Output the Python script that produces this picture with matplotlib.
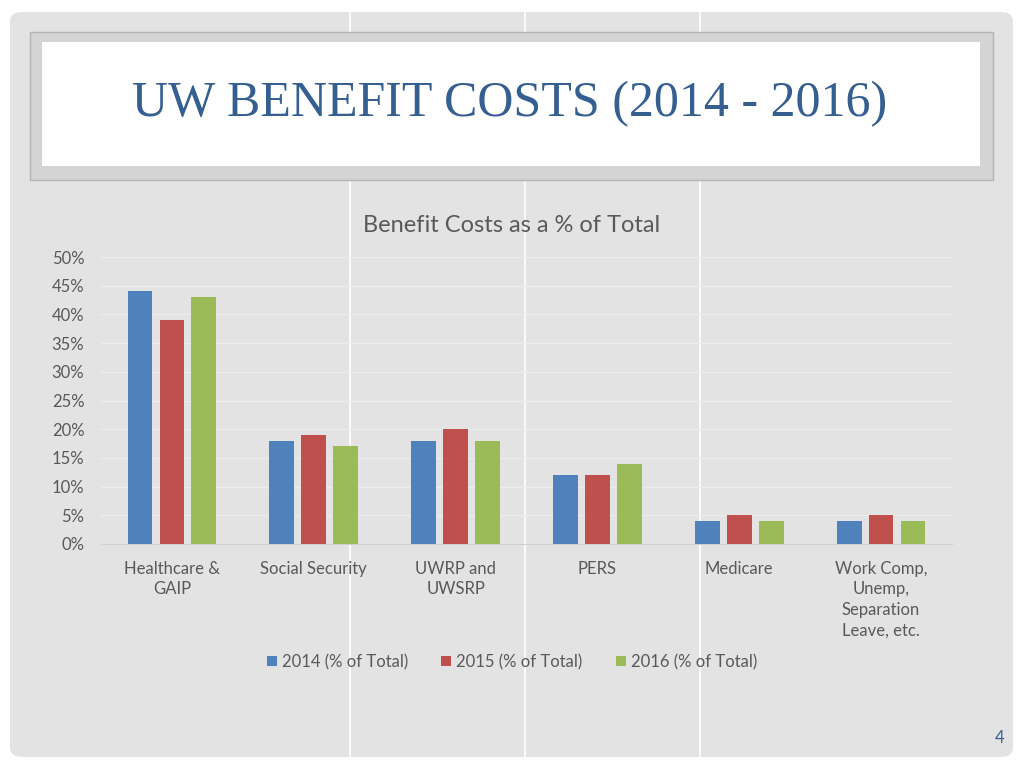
import matplotlib.pyplot as plt
from matplotlib.patches import FancyBboxPatch, Rectangle
from matplotlib.lines import Line2D
import numpy as np

categories = ['Healthcare &\nGAIP', 'Social Security', 'UWRP and\nUWSRP', 'PERS',
              'Medicare', 'Work Comp,\nUnemp,\nSeparation\nLeave, etc.']
pct_2014 = [44, 18, 18, 12, 4, 4]
pct_2015 = [39, 19, 20, 12, 5, 5]
pct_2016 = [43, 17, 18, 14, 4, 4]
series_names = ['2014 (% of Total)', '2015 (% of Total)', '2016 (% of Total)']
colors = ['#4F81BD', '#C0504D', '#9BBB59']

W, H = 1024, 768
fig = plt.figure(figsize=(W / 100, H / 100), dpi=100)
fig.patch.set_facecolor('white')

def px(x, y):
    return x / W, 1 - y / H

# slide background
bg = FancyBboxPatch(px(10, 757), 1003 / W, 745 / H, boxstyle='round,pad=0,rounding_size=0.012',
                    transform=fig.transFigure, facecolor='#E3E3E3', edgecolor='none', zorder=0)
fig.patches.append(bg)

# white vertical stripes
for x in [350, 525, 700]:
    fig.add_artist(Line2D([x / W, x / W], [1 - 757 / H, 1 - 12 / H], color='white', lw=1.2,
                          transform=fig.transFigure, zorder=1))

# title box
fig.patches.append(Rectangle(px(30, 180), 963 / W, 148 / H, transform=fig.transFigure,
                             facecolor='#D4D4D4', edgecolor='#B5B5B5', lw=1, zorder=2))
fig.patches.append(Rectangle(px(42, 166), 938 / W, 124 / H, transform=fig.transFigure,
                             facecolor='white', edgecolor='none', zorder=3))
fig.text(510 / W, 1 - 104 / H, 'UW BENEFIT COSTS (2014 - 2016)', ha='center', va='center',
         fontsize=36, color='#365F91', family='Liberation Serif', zorder=4)
fig.text(1000 / W, 1 - 738 / H, '4', ha='center', va='center', fontsize=12,
         color='#365F91', family='Lato')

# chart
ax = fig.add_axes([101 / W, 1 - 544 / H, 851 / W, 287 / H])
ax.set_zorder(5)
ax.set_facecolor('none')
x = np.arange(len(categories))
bw = 0.175
step = 0.225
for i, (vals, c, name) in enumerate(zip([pct_2014, pct_2015, pct_2016], colors, series_names)):
    ax.bar(x + (i - 1) * step, vals, bw, color=c, label=name, zorder=3)

ax.set_xlim(-0.5, len(categories) - 0.5)
ax.set_ylim(0, 50)
ax.set_yticks(range(0, 51, 5))
ax.set_yticklabels([f'{v}%' for v in range(0, 51, 5)])
ax.set_xticks(x)
ax.set_xticklabels(categories, linespacing=1.35)
ax.yaxis.grid(True, color='#EDEDED', lw=1, zorder=0)
for s in ax.spines.values():
    s.set_visible(False)
ax.spines['bottom'].set_visible(True)
ax.spines['bottom'].set_color('#D0D0D0')
ax.tick_params(length=0, labelsize=12, labelcolor='#595959')
ax.tick_params(axis='x', pad=12)
ax.tick_params(axis='y', pad=12)
for lab in ax.get_xticklabels() + ax.get_yticklabels():
    lab.set_family('Lato')

fig.text(512 / W, 1 - 225 / H, 'Benefit Costs as a % of Total', ha='center', va='center',
         fontsize=17, color='#595959', family='Lato', zorder=6)

leg = fig.legend(loc='center', bbox_to_anchor=(512 / W, 1 - 662 / H), ncol=3, frameon=False,
                 handlelength=0.6, handleheight=0.6, handletextpad=0.3, columnspacing=2.0,
                 prop={'family': 'Lato', 'size': 12})
leg.set_zorder(6)
for t in leg.get_texts():
    t.set_color('#595959')

fig.savefig('out.png', dpi=100, facecolor=fig.get_facecolor())
